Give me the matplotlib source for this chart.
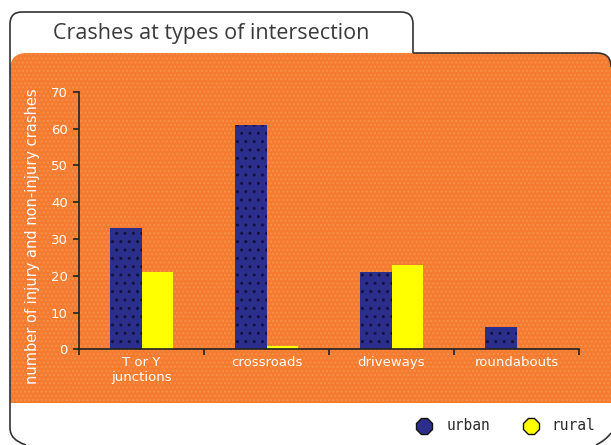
import matplotlib.pyplot as plt
from matplotlib.path import Path
from matplotlib.patches import PathPatch
import numpy as np

# --- chart data ---
categories = ['T or Y\njunctions', 'crossroads', 'driveways', 'roundabouts']
urban = [33, 61, 21, 6]
rural = [21, 1, 23, 0]
y_ticks = [0, 10, 20, 30, 40, 50, 60, 70]
series_names = ['urban', 'rural']

title = 'Crashes at types of intersection'
y_label = 'number of injury and non-injury crashes'

ORANGE = '#F47B30'
BLUE = '#2C2E8C'
YELLOW = '#FFFF00'
LINE = '#333333'
W, H = 611, 445

fig = plt.figure(figsize=(W / 100, H / 100), dpi=100, facecolor='white')

# background layer in pixel coordinates (y grows downward)
bg = fig.add_axes([0, 0, 1, 1], zorder=0)
bg.set_xlim(0, W)
bg.set_ylim(H, 0)
bg.axis('off')

M, L, C = Path.MOVETO, Path.LINETO, Path.CURVE3

# orange panel with rounded top corners
panel = Path(
    [(10, 403), (10, 70), (10, 53), (27, 53), (597, 53), (611, 53), (611, 67),
     (611, 403), (10, 403)],
    [M, L, C, C, L, C, C, L, L])
bg.add_patch(PathPatch(panel, facecolor=ORANGE, edgecolor='#F69048',
                       hatch='....', lw=0))

# outline: title tab + left edge + bottom-left corner
outline = Path(
    [(26, 445), (10, 440), (10, 428), (10, 24), (10, 12), (22, 12),
     (401, 12), (413, 12), (413, 24), (413, 53)],
    [M, C, C, L, C, C, L, C, C, L])
bg.add_patch(PathPatch(outline, facecolor='none', edgecolor=LINE, lw=1.2))

top_edge = Path([(413, 53), (597, 53), (611, 53), (611, 67)], [M, L, C, C])
bg.add_patch(PathPatch(top_edge, facecolor='none', edgecolor=LINE, lw=1.2))

corner = Path([(596, 445), (606, 440), (611, 433)], [M, C, C])
bg.add_patch(PathPatch(corner, facecolor='none', edgecolor=LINE, lw=1.2))

bg.text(211, 33, title, ha='center', va='center', fontsize=15.5,
        color='#3a3a3a', family='Open Sans')

# legend drawn by hand: octagon marker + monospace label
for name, col, mx, tx in [(series_names[0], BLUE, 424, 447),
                          (series_names[1], YELLOW, 531, 551)]:
    bg.plot(mx, 426, marker='8', markersize=12, markerfacecolor=col,
            markeredgecolor='#111111', markeredgewidth=1.0)
    bg.text(tx, 426, name, ha='left', va='center', fontsize=10.5,
            family='DejaVu Sans Mono', color='#2a2a2a')

# --- bar chart ---
ax = fig.add_axes([79 / W, (H - 349.3) / H, 500 / W, 257.6 / H], zorder=1)
ax.patch.set_alpha(0)

x = np.arange(len(categories)) + 0.5
bw = 0.25
ax.bar(x - bw / 2, urban, bw, color=BLUE, edgecolor='#12123a', hatch='..',
       linewidth=0)
ax.bar(x + bw / 2, rural, bw, color=YELLOW, linewidth=0)

ax.set_xlim(0, len(categories))
ax.set_ylim(0, 70)
ax.set_yticks(y_ticks)
ax.set_xticks(range(len(categories) + 1))
ax.set_xticklabels([])
ax.set_xticks(x, minor=True)
ax.set_xticklabels(categories, minor=True)
ax.tick_params(axis='x', which='minor', length=0, pad=5)
ax.tick_params(axis='y', pad=4)
ax.tick_params(which='major', length=4, width=1.2, color='#222222',
               direction='out')
ax.tick_params(which='both', labelcolor='white', labelsize=9.5)
for lab in ax.get_xticklabels(minor=True) + ax.get_yticklabels():
    lab.set_family('DejaVu Sans')
    lab.set_linespacing(1.2)

for side in ['top', 'right']:
    ax.spines[side].set_visible(False)
for side in ['left', 'bottom']:
    ax.spines[side].set_color('#222222')
    ax.spines[side].set_linewidth(1.2)

fig.text(33 / W, 1 - 236 / H, y_label, rotation=90, ha='center', va='center',
         color='white', fontsize=10.5, family='DejaVu Sans')

fig.savefig('out.png', dpi=100, facecolor='white')
